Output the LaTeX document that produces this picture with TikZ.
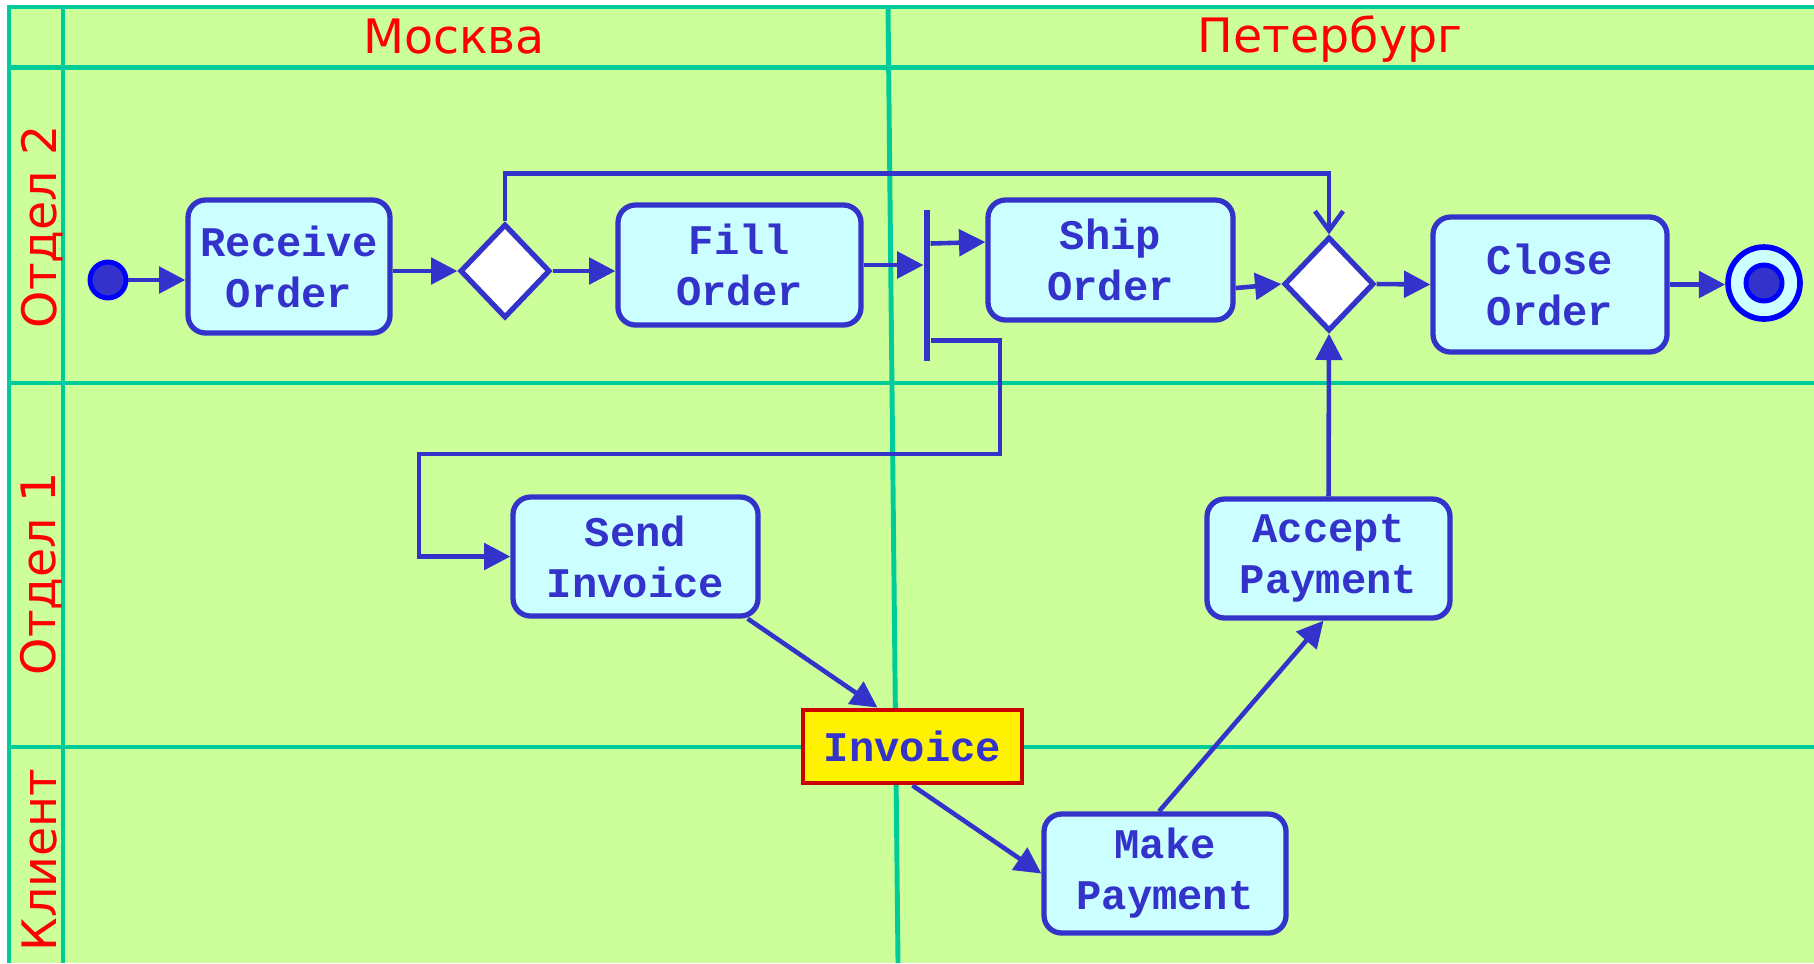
\documentclass[tikz,border=0pt]{standalone}
\usepackage{fontspec}
\setmainfont{DejaVu Sans}
\newfontfamily\codefont{Liberation Mono}
\usetikzlibrary{arrows.meta,shapes.geometric}
\definecolor{lanefill}{HTML}{CCFF99}
\definecolor{laneline}{HTML}{00CC99}
\definecolor{act}{HTML}{3333CC}
\definecolor{actfill}{HTML}{CCFFFF}
\definecolor{dotblue}{HTML}{0000FF}
\definecolor{objred}{HTML}{CC0000}
\begin{document}
\begin{tikzpicture}
\tikzset{>={Triangle[length=7.5pt,width=7.5pt]}}
\tikzset{
  swim/.style={laneline, line width=1.4pt},
  lanetitle/.style={red, font=\fontsize{13.5}{16}\selectfont, anchor=base, inner sep=0pt},
  activity/.style={draw=act, fill=actfill, line width=1.5pt, rounded corners=5pt,
    align=center, text=act, inner sep=0pt,
    font=\codefont\fontsize{12}{14.5}\bfseries\selectfont},
  decision/.style={diamond, draw=act, fill=white, line width=1.5pt, inner sep=0pt,
    minimum width=0.9cm, minimum height=0.94cm},
  forkbar/.style={rectangle, fill=act, inner sep=0pt, minimum width=1.6pt, minimum height=1.51cm},
  startdot/.style={circle, fill=act, draw=dotblue, line width=1.4pt, inner sep=0pt, minimum size=0.36cm},
  finring/.style={circle, fill=actfill, draw=dotblue, line width=1.6pt, inner sep=0pt, minimum size=0.72cm},
  datanode/.style={draw=objred, fill=yellow, line width=1.4pt, text=act, inner sep=0pt,
    font=\codefont\fontsize{12}{14.5}\bfseries\selectfont},
  flow/.style={act, line width=1.3pt}
}
\useasboundingbox (0,0) rectangle (18.14,-9.63);

\fill[lanefill] (0.09,-0.07) rectangle (18.14,-9.63);
\draw[swim] (0.09,-9.63) -- (0.09,-0.07) -- (18.14,-0.07);
\draw[swim] (0.09,-0.675) -- (18.14,-0.675);
\draw[swim] (0.09,-3.83) -- (18.14,-3.83);
\draw[swim] (0.09,-7.47) -- (18.14,-7.47);
\draw[swim] (0.63,-0.07) -- (0.63,-9.63);
\draw[swim] (8.88,-0.07) -- (8.98,-9.63);

\node[lanetitle] (moscow) at (4.54,-0.53) {Москва};
\node[lanetitle] (spb) at (13.30,-0.52) {Петербург};
\node[lanetitle, rotate=90] (dept2) at (0.56,-2.27) {Отдел 2};
\node[lanetitle, rotate=90] (dept1) at (0.55,-5.74) {Отдел 1};
\node[lanetitle, rotate=90] (client) at (0.56,-8.60) {Клиент};

\coordinate (S) at (1.08,-2.80);
\coordinate (RO) at (2.89,-2.665);
\coordinate (D1) at (5.05,-2.71);
\coordinate (FO) at (7.395,-2.65);
\coordinate (FK) at (9.27,-2.855);
\coordinate (SO) at (11.105,-2.60);
\coordinate (D2) at (13.29,-2.84);
\coordinate (CO) at (15.50,-2.845);
\coordinate (E) at (17.64,-2.83);
\coordinate (SI) at (6.355,-5.565);
\coordinate (AP) at (13.285,-5.585);
\coordinate (IN) at (9.125,-7.465);
\coordinate (MP) at (11.65,-8.735);

\node[startdot] (start) at (S) {};
\node[activity, minimum width=2.02cm, minimum height=1.33cm] (receive) at (RO) {Receive\\Order};
\node[decision] (dec1) at (D1) {};
\node[activity, minimum width=2.43cm, minimum height=1.20cm] (fill) at (FO) {Fill\\Order};
\node[forkbar] (fork) at (FK) {};
\node[activity, minimum width=2.45cm, minimum height=1.20cm] (ship) at (SO) {Ship\\Order};
\node[decision] (dec2) at (D2) {};
\node[activity, minimum width=2.34cm, minimum height=1.35cm] (close) at (CO) {Close\\Order};
\node[finring] (fin) at (E) {};
\node[startdot] (findot) at (E) {};
\node[activity, minimum width=2.45cm, minimum height=1.19cm] (send) at (SI) {Send\\Invoice};
\node[activity, minimum width=2.43cm, minimum height=1.19cm] (accept) at (AP) {Accept\\Payment};
\node[datanode, minimum width=2.19cm, minimum height=0.73cm] (inv) at (IN) {Invoice};
\node[activity, minimum width=2.42cm, minimum height=1.19cm] (make) at (MP) {Make\\Payment};

\coordinate (loopA) at (10.0,-4.54);
\coordinate (loopB) at (4.19,-4.54);

\draw[flow,->] (start) -- (start -| receive.west);
\draw[flow,->] (receive.east |- dec1.west) -- (dec1.west);
\draw[flow,->] (dec1.east) -- (fill.west |- dec1.east);
\draw[flow,-{Straight Barb[length=5.5pt,width=8pt]}] (dec1.north) -- ++(0,0.48) -| (dec2.north);
\draw[flow,->] (fill.east) -- (fill.east -| fork.west);
\draw[flow,->] ([yshift=4.2mm]fork.east) -- ([yshift=1.8mm]ship.west);
\draw[flow,->] ([yshift=-5.5mm]fork.east) -| (loopA) -- (loopB) |- (send.west);
\draw[flow,->] ([yshift=-2.8mm]ship.east) -- (dec2.west);
\draw[flow,->] (dec2.east) -- (close.west);
\draw[flow,->] (close.east) -- (close.east -| fin.west);
\draw[flow,->] ([xshift=-1.3mm]send.south east) -- ([xshift=-3.5mm]inv.north);
\draw[flow,->] (inv.south) -- (make.west);
\draw[flow,->] ([xshift=-0.6mm]make.north) -- ([xshift=-0.5mm]accept.south);
\draw[flow,->] (accept.north) -- (dec2.south);

\end{tikzpicture}
\end{document}
